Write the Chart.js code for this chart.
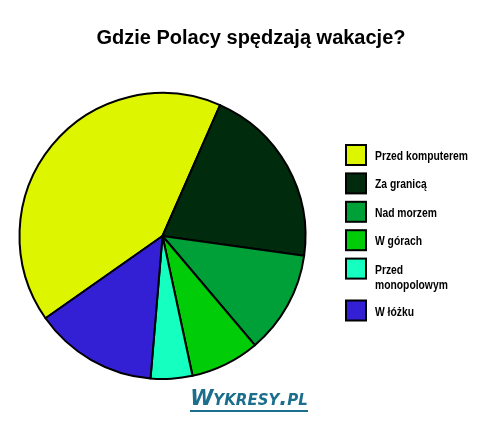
<!DOCTYPE html>
<html>
<head>
<meta charset="utf-8">
<script src="https://cdn.jsdelivr.net/npm/chart.js@4/dist/chart.umd.min.js"></script>
<style>
  html, body { margin: 0; padding: 0; background: #ffffff; }
  #wrap { width: 500px; height: 427px; position: relative; }
</style>
</head>
<body>
<div id="wrap"><canvas id="c" width="500" height="427"></canvas></div>
<script>
const titleText = "Gdzie Polacy spędzają wakacje?";
const categories = ["Przed komputerem", "Za granicą", "Nad morzem", "W górach", "Przed monopolowym", "W łóżku"];
const legendLines = [["Przed komputerem"], ["Za granicą"], ["Nad morzem"], ["W górach"], ["Przed", "monopolowym"], ["W łóżku"]];
const shares = [41.3, 20.6, 11.6, 7.8, 4.7, 13.9];
const sliceColors = ["#DDF600", "#002B0C", "#00A038", "#00CC08", "#14FFC0", "#3420D4"];
const watermark = "Wykresy.pl";

const textPlugin = {
  id: 'textPlugin',
  afterDraw(chart) {
    const ctx = chart.ctx;
    ctx.save();
    // title
    ctx.fillStyle = '#000';
    ctx.font = 'bold 20px "Liberation Sans", Arial, sans-serif';
    ctx.textAlign = 'center';
    ctx.textBaseline = 'alphabetic';
    ctx.fillText(titleText, 251, 44);
    // legend
    ctx.textAlign = 'left';
    ctx.font = 'bold 12px "Liberation Sans", Arial, sans-serif';
    let y = 145;
    legendLines.forEach((lines, i) => {
      ctx.fillStyle = sliceColors[i];
      ctx.fillRect(346, y, 20, 20);
      ctx.lineWidth = 2;
      ctx.strokeStyle = '#000';
      ctx.strokeRect(346, y, 20, 20);
      ctx.fillStyle = '#000';
      lines.forEach((ln, k) => {
        ctx.save();
        ctx.translate(375, y + 15 + k * 15);
        ctx.scale(0.86, 1);
        ctx.fillText(ln, 0, 0);
        ctx.restore();
      });
      y += 28.4 + (lines.length - 1) * 13.5;
    });
    // watermark
    ctx.fillStyle = '#1B6E8C';
    ctx.font = 'italic bold small-caps 21px "DejaVu Sans", sans-serif';
    ctx.textAlign = 'center';
    ctx.fillText(watermark, 249, 405);
    ctx.fillRect(190, 410, 118, 2);
    ctx.restore();
  }
};

new Chart(document.getElementById('c'), {
  type: 'pie',
  data: {
    labels: categories,
    datasets: [{
      data: shares,
      backgroundColor: sliceColors,
      borderColor: '#000000',
      borderWidth: 2,
      borderJoinStyle: 'round'
    }]
  },
  options: {
    responsive: false,
    animation: false,
    rotation: 234.9,
    layout: { padding: { left: 17, top: 92, right: 192, bottom: 47 } },
    plugins: {
      legend: { display: false },
      title: { display: false },
      tooltip: { enabled: false }
    }
  },
  plugins: [textPlugin]
});
</script>
</body>
</html>
